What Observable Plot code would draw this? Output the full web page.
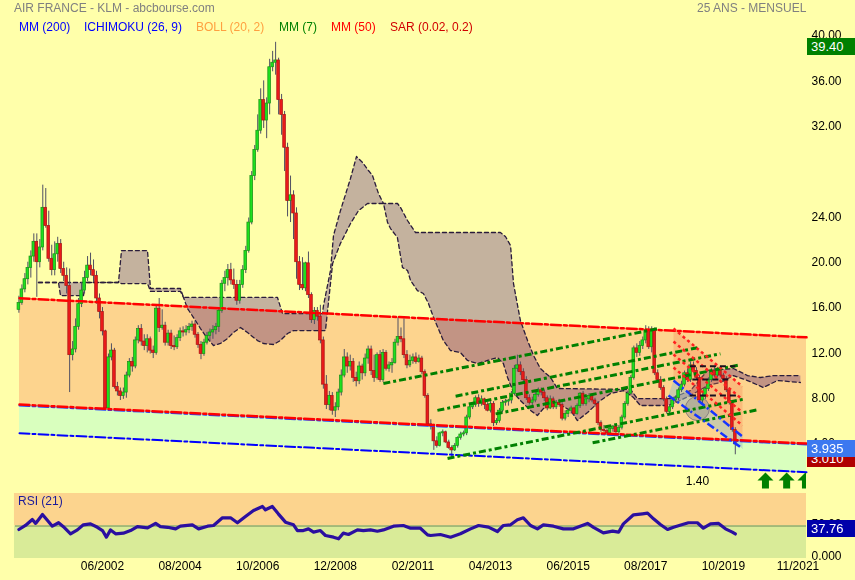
<!DOCTYPE html>
<html><head><meta charset="utf-8">
<script src="https://cdn.jsdelivr.net/npm/d3@7"></script>
<script src="https://cdn.jsdelivr.net/npm/@observablehq/plot@0.6"></script>
<style>
html,body{margin:0;padding:0;background:#FFFFAA;}
#wrap{position:relative;width:855px;height:580px;overflow:hidden;font-family:"Liberation Sans",Arial,sans-serif;}
#wrap svg{position:absolute;left:0;}
.t{position:absolute;font-size:12px;white-space:nowrap;line-height:14px;}
.box{position:absolute;left:807px;width:48px;height:17px;color:#fff;font-size:13px;line-height:17px;padding-left:4px;box-sizing:border-box;}
</style></head><body><div id="wrap"></div>
<script>
// ---------- DATA ----------
// month index: 0 = Jan 1999 ; first candle = Feb 2000
const firstMonth = 13;
const open = [
15.8,16.4,17.6,18.5,19.5,20.5,21.8,20.0,21.3,24.8,23.2,
20.3,19.3,20.7,21.6,19.4,18.8,17.9,11.8,12.3,14.3,16.3,17.5,
18.6,19.7,19.3,18.8,16.8,15.6,13.9,7.1,11.6,12.2,9.0,8.6,
8.2,8.5,10.0,11.2,10.8,13.1,14.1,13.0,12.6,13.2,12.2,12.0,
15.9,14.2,14.4,12.9,13.7,12.6,12.5,13.3,13.9,13.8,14.0,14.3,
14.5,13.6,12.7,11.9,12.9,13.5,13.8,14.0,14.3,15.7,18.1,18.6,
19.3,18.4,18.0,16.6,18.0,19.3,21.0,23.5,27.6,29.9,31.6,34.3,
32.5,34.0,37.2,37.6,37.8,34.3,33.0,30.1,25.4,25.9,24.3,20.0,
18.0,17.7,19.9,17.1,14.9,15.7,15.2,13.1,9.2,7.4,8.2,6.9,
7.2,8.5,10.0,11.6,10.8,11.2,9.8,9.5,10.8,10.2,11.5,12.3,
10.4,9.8,11.8,9.6,12.0,10.6,10.9,11.1,12.9,13.4,13.2,11.8,
10.9,11.3,11.6,11.2,11.5,10.3,8.2,5.7,5.5,4.2,3.8,4.9,
5.0,4.1,3.6,3.4,3.8,4.5,4.8,4.9,6.3,7.2,7.4,8.0,
7.5,7.9,7.4,6.9,7.5,5.8,6.0,6.9,7.6,7.7,7.8,8.4,
10.6,10.9,10.3,9.6,8.0,7.6,7.8,8.3,8.7,8.5,8.0,7.1,
7.9,7.2,7.6,7.4,6.2,6.6,6.9,7.1,6.6,7.3,8.4,7.5,
7.9,8.2,7.8,7.5,5.8,5.2,5.1,4.9,5.3,5.5,5.0,5.4,
6.3,7.5,8.4,9.8,12.4,12.0,12.6,13.1,14.0,12.5,14.0,10.2,
9.6,8.9,7.9,6.8,7.2,7.8,8.0,8.7,9.2,10.2,9.6,10.9,
10.4,9.8,7.8,8.1,8.8,9.6,10.4,10.0,10.5,10.0,9.7,8.7,
7.6,5.2];
const high = [
17.0,18.0,19.0,20.0,21.0,22.5,22.5,22.0,26.8,26.5,24.5,
21.5,21.8,22.2,22.0,20.0,19.5,19.4,13.0,15.0,16.8,18.2,19.2,
20.5,20.8,20.2,19.2,17.2,16.0,14.0,11.9,12.8,12.4,9.4,8.9,
8.9,10.3,11.5,11.6,13.4,14.4,14.5,13.6,13.6,13.4,12.6,16.2,
16.8,15.8,14.7,14.0,14.0,13.5,13.6,14.2,14.3,14.4,14.6,14.8,
14.8,13.8,13.0,13.2,13.8,14.1,14.4,14.6,16.0,18.4,19.2,19.8,
19.9,19.4,18.4,18.4,19.7,21.4,23.9,28.0,30.3,33.0,35.3,36.0,
34.5,37.9,38.6,39.4,38.0,34.8,33.3,30.5,27.6,26.3,24.8,20.5,
20.4,20.0,20.9,17.3,16.0,16.0,16.2,13.4,10.0,8.6,8.5,7.6,
8.8,10.5,12.3,12.0,11.8,11.5,10.3,11.2,11.0,11.9,12.6,12.6,
11.8,12.0,12.2,12.3,12.2,11.2,11.5,13.2,15.1,14.2,15.0,12.2,
11.8,11.9,12.0,11.8,11.7,10.5,8.4,6.1,5.7,4.6,5.0,5.2,
5.1,4.3,3.8,4.0,4.6,5.0,5.1,6.5,7.4,7.6,8.2,8.3,
8.2,8.0,7.6,7.7,7.7,6.2,7.1,7.8,7.9,7.9,8.6,10.9,
11.8,11.2,10.6,9.9,8.3,8.1,8.6,8.9,8.9,8.7,8.2,8.2,
8.1,7.8,7.9,7.6,6.9,7.0,7.3,7.2,7.5,8.5,8.6,8.2,
8.4,8.3,8.0,7.7,6.0,5.6,5.3,5.4,5.6,5.6,5.6,6.5,
7.7,8.6,10.0,12.6,12.8,13.0,13.4,14.4,14.3,14.3,14.2,10.5,
9.9,9.1,8.1,7.4,8.0,8.2,8.9,9.5,10.4,10.6,11.2,11.2,
10.7,10.0,8.4,9.0,9.8,10.6,10.8,10.7,10.8,10.2,9.9,8.9,
7.8,5.4];
const low = [
15.5,16.2,17.3,18.0,18.6,20.0,16.9,19.5,21.0,23.0,20.0,
18.8,18.8,20.0,19.0,18.3,17.2,8.5,11.3,12.0,14.0,16.0,17.2,
18.3,18.8,18.2,16.3,15.0,13.5,6.9,7.0,11.3,8.8,8.2,7.8,
7.9,8.0,9.8,10.3,10.6,12.8,12.6,12.2,12.0,11.9,11.5,11.8,
13.8,14.0,12.6,12.6,12.3,12.2,12.3,13.0,13.4,13.5,13.7,13.9,
13.3,12.4,11.4,11.7,12.7,13.0,13.2,13.6,13.8,15.5,17.4,17.9,
18.0,17.6,16.2,16.3,17.7,19.0,20.8,23.3,27.2,29.7,31.3,31.8,
30.9,33.0,36.8,36.5,33.0,31.2,28.0,24.0,23.5,22.0,18.5,17.5,
17.5,17.4,16.8,14.6,14.5,14.8,12.8,8.8,7.0,6.9,6.5,6.3,
6.9,8.2,9.8,10.2,10.4,9.4,9.0,9.2,9.6,9.9,11.0,10.0,
9.4,9.6,9.4,9.4,10.4,10.3,10.2,11.0,12.6,12.9,11.5,10.6,
10.7,11.0,11.0,11.1,10.1,8.0,5.5,5.2,3.4,3.6,3.7,4.6,
4.0,3.5,2.8,3.3,3.6,4.3,4.6,4.7,6.1,7.0,7.2,7.2,
7.3,7.0,6.8,6.7,5.5,5.6,5.8,6.7,7.3,7.3,7.5,8.2,
10.3,10.0,9.4,7.8,7.4,7.3,7.6,8.1,8.2,7.7,6.9,7.0,
7.0,7.0,7.2,6.0,6.0,6.3,6.6,6.4,6.5,7.1,7.3,7.3,
7.6,7.6,7.2,5.6,5.0,5.0,4.7,4.8,5.0,4.9,4.7,5.2,
6.1,7.3,8.2,9.6,11.6,11.7,12.3,12.8,12.3,12.0,10.0,9.4,
8.7,7.7,6.6,6.6,7.0,7.6,7.8,8.5,9.0,9.4,9.4,10.2,
9.6,7.6,7.5,7.9,8.6,9.4,9.8,9.8,9.8,9.4,8.5,7.4,
5.0,3.01];
const close = [
16.4,17.6,18.5,19.5,20.5,21.8,20.0,21.3,24.8,23.2,20.3,
19.3,20.7,21.6,19.4,18.8,17.9,11.8,12.3,14.3,16.3,17.5,18.6,
19.7,19.3,18.8,16.8,15.6,13.9,7.1,11.6,12.2,9.0,8.6,8.2,
8.5,10.0,11.2,10.8,13.1,14.1,13.0,12.6,13.2,12.2,12.0,15.9,
14.2,14.4,12.9,13.7,12.6,12.5,13.3,13.9,13.8,14.0,14.3,14.5,
13.6,12.7,11.9,12.9,13.5,13.8,14.0,14.3,15.7,18.1,18.6,19.3,
18.4,18.0,16.6,18.0,19.3,21.0,23.5,27.6,29.9,31.6,34.3,32.5,
34.0,37.2,37.6,37.8,34.3,33.0,30.1,25.4,25.9,24.3,20.0,18.0,
17.7,19.9,17.1,14.9,15.7,15.2,13.1,9.2,7.4,8.2,6.9,7.2,
8.5,10.0,11.6,10.8,11.2,9.8,9.5,10.8,10.2,11.5,12.3,10.4,
9.8,11.8,9.6,12.0,10.6,10.9,11.1,12.9,13.4,13.2,11.8,10.9,
11.3,11.6,11.2,11.5,10.3,8.2,5.7,5.5,4.2,3.8,4.9,5.0,
4.1,3.6,3.4,3.8,4.5,4.8,4.9,6.3,7.2,7.4,8.0,7.5,
7.9,7.4,6.9,7.5,5.8,6.0,6.9,7.6,7.7,7.8,8.4,10.6,
10.9,10.3,9.6,8.0,7.6,7.8,8.3,8.7,8.5,8.0,7.1,7.9,
7.2,7.6,7.4,6.2,6.6,6.9,7.1,6.6,7.3,8.4,7.5,7.9,
8.2,7.8,7.5,5.8,5.2,5.1,4.9,5.3,5.5,5.0,5.4,6.3,
7.5,8.4,9.8,12.4,12.0,12.6,13.1,14.0,12.5,14.0,10.2,9.6,
8.9,7.9,6.8,7.2,7.8,8.0,8.7,9.2,10.2,9.6,10.9,10.4,
9.8,7.8,8.1,8.8,9.6,10.4,10.0,10.5,10.0,9.7,8.7,7.6,
5.2,3.935];

// Ichimoku cloud envelopes [monthIndex, price]
const cloudUpper = [[19.56,18.21],[46.36,18.21],[47.37,21.03],[56.08,21.03],[57.08,17.68],[67.13,17.68],[68.14,16.89],[99.63,16.89],[101.3,15.47],[114.7,15.47],[115.04,16.18],[117.38,19.27],[118.39,22.36],[120.73,24.56],[124.08,27.39],[126.1,29.33],[128.1,28.8],[130.1,28.09],[131.45,27.65],[133.46,26.06],[135.14,25.18],[139.83,25.18],[140.84,24.83],[143.18,23.68],[145.86,22.62],[174.3,22.62],[176.0,22.27],[177.7,21.47],[178.7,18.12],[181.0,14.86],[183.4,13.09],[185.4,11.77],[187.7,10.62],[191.1,9.83],[193.4,8.86],[217.9,8.77],[220.2,7.97],[231.3,7.97],[238.0,8.68],[243.7,10.45],[252.4,10.62],[257.1,10.0],[261.4,9.83],[265.8,10.0],[274.8,10.0]];
const cloudLower = [[19.56,18.21],[26.26,18.21],[26.93,17.06],[34.64,17.06],[35.3,18.21],[46.36,18.21],[47.37,18.12],[56.08,18.12],[57.08,17.42],[67.13,17.42],[68.14,16.89],[69.48,15.91],[71.49,15.12],[73.83,14.15],[76.18,13.27],[78.19,12.65],[80.53,12.83],[82.88,13.27],[84.89,13.8],[87.23,14.24],[89.58,13.8],[92.93,13.09],[94.94,12.83],[98.29,12.74],[100.6,13.09],[103.0,13.71],[105.0,13.97],[114.7,13.97],[115.7,13.97],[118.1,19.89],[120.7,21.65],[124.1,23.42],[126.8,24.56],[129.8,25.18],[135.14,25.18],[136.5,23.5],[137.5,22.97],[139.8,22.18],[141.5,19.53],[143.2,19.27],[144.2,18.39],[146.5,17.5],[148.5,17.24],[150.2,16.36],[151.9,15.12],[155.2,13.09],[157.6,12.21],[160.9,12.03],[163.3,11.33],[166.6,11.06],[170.0,11.33],[173.3,11.59],[175.3,11.06],[176.7,9.83],[178.7,8.5],[181.0,7.8],[184.4,6.92],[186.7,6.48],[188.7,7.09],[193.4,7.53],[197.8,6.92],[200.1,6.03],[203.5,6.74],[207.8,7.8],[211.2,8.41],[215.5,8.68],[218.9,8.06],[221.2,7.36],[230.3,7.36],[232.3,7.53],[238.0,8.24],[243.7,9.12],[248.0,9.39],[252.4,10.0],[257.1,9.56],[262.4,8.95],[267.1,9.56],[274.8,9.39]];

// long-term channel [monthIndex, price]
const channelTop = [[13.2,16.82],[276.85,13.37]];
const channelMid = [[13.2,7.44],[276.85,4.0]];
const channelBottom = [[13.2,4.91],[276.85,1.47]];

// green trend lines
const greenLines = [
  {m1:135.1,v1:9.30,m2:226.9,v2:14.13},
  {m1:159.3,v1:8.18,m2:240.3,v2:12.45},
  {m1:153.2,v1:6.93,m2:248.0,v2:11.92},
  {m1:172.7,v1:6.62,m2:254.7,v2:10.95},
  {m1:156.6,v1:2.69,m2:255.7,v2:7.91},
  {m1:205.2,v1:4.07,m2:260.1,v2:6.96}
];
// short-term descending channel (2018-2020)
const redChannel = [
  {m1:232.3,v1:14.15,m2:255.4,v2:9.03},
  {m1:232.3,v1:13.00,m2:255.4,v2:7.89},
  {m1:232.3,v1:11.86,m2:255.4,v2:6.74},
  {m1:232.3,v1:10.71,m2:255.4,v2:5.59}
];
const redZone = [[232.3,14.15],[255.4,9.03],[255.4,4.44],[232.3,9.56]];
const blueChannel = [
  {m1:232.3,v1:9.56,m2:255.4,v2:4.62},
  {m1:230.6,v1:8.24,m2:255.4,v2:3.56}
];
const blueZone = [[232.3,9.56],[255.4,4.62],[255.4,3.56],[230.6,8.24]];
const circleMark = [{m:240.3,v:7.09}];
const blackDashes = [
  {m1:237.8,v1:10.82,m2:253.0,v2:10.82},
  {m1:238.6,v1:9.65,m2:251.4,v2:9.65},
  {m1:237.8,v1:8.24,m2:253.7,v2:8.24}
];
const buySignals = [263.1,270.2,276.5];
const notes = [{m:240.3,v:0.65,label:"1.40"}];

const priceTicks = [4,8,12,16,20,24,32,36,40];
const xTickLabels = ["06/2002","08/2004","10/2006","12/2008","02/2011","04/2013","06/2015","08/2017","10/2019","11/2021"];

const rsi = [[13,44.6],[15.2,50.8],[17.5,60],[18.6,54],[20.9,67.7],[22.6,58.5],[24.2,49.7],[26.3,55],[27.9,49],[30.3,38],[32.6,44],[34.6,51.8],[37,53.3],[39.3,48],[41,43],[42.3,32.8],[43.7,44],[45.4,38],[48,39],[50.4,43],[52.7,49],[56.1,47],[58.8,54],[60.4,49],[62.8,48],[65.5,45.6],[67.1,49.7],[71.1,51.8],[73.2,45.6],[76.2,49.7],[78.2,50.8],[81.2,62.6],[83.9,62.6],[86.2,55],[88.9,64.6],[91.6,73.8],[94.6,80],[95.6,74.9],[97.9,80],[99.9,68.7],[102.3,55.9],[105,51.8],[106.3,43],[108.3,43],[110,45.6],[111.7,40.5],[114,43],[115.7,35.4],[118.4,32.8],[120.1,30.3],[121.7,39],[123.4,36.9],[126.4,44],[128.4,43],[130.8,44],[133.1,42],[135.1,44],[138.5,49.7],[141.8,50.8],[144.2,46.6],[147.5,46.6],[149.9,36.4],[150.9,35.4],[154.2,36.9],[157.6,32.8],[160.9,38],[164.3,45.6],[167,50.8],[170.3,48.2],[173.3,41.5],[175.3,50.8],[177.7,51.8],[180,59.5],[182,62.6],[184.4,50.8],[186.7,45.6],[188.7,51.8],[192.1,49.7],[195.4,45.6],[198.8,45.6],[203.5,54],[205.5,48],[208.8,39.5],[211.9,42],[213.9,40.5],[215.5,53.3],[218.9,67.2],[221.9,68.7],[223.6,69.7],[225.6,61],[227.9,52.3],[230.3,44.6],[232.3,48.2],[235.3,52.3],[237.3,55],[240.3,55],[242.3,46.6],[244.7,53.3],[247.4,54],[249.7,45.6],[252,40.5],[253,37.76]];
const rsiLevels = [0,50];

const priceMarkers = [{v:39.40,color:"#008000"},{v:3.010,color:"#B00000"},{v:3.935,color:"#3C78F0"}];

// ---------- BUILD ----------
const n = close.length;
if (open.length!==n||high.length!==n||low.length!==n) throw new Error("length mismatch "+[open.length,high.length,low.length,n]);
const candles = close.map((c,i)=>({m:firstMonth+i,o:open[i],h:high[i],l:low[i],c}));
const ups = candles.filter(d=>d.c>=d.o), downs = candles.filter(d=>d.c<d.o);
const band = channelTop.map((p,i)=>({m:p[0],top:p[1],mid:channelMid[i][1],bot:channelBottom[i][1]}));
const cloudPoly = cloudUpper.concat(cloudLower.slice().reverse());
const arrowPolys = buySignals.flatMap((m,k)=>[[m-1.17,0.03],[m-1.17,0.74],[m-2.68,0.74],[m,1.45],[m+2.68,0.74],[m+1.17,0.74],[m+1.17,0.03]].map(p=>({id:k,m:p[0],v:p[1]})));
const monthIndex = s => (+s.slice(3)-1999)*12 + (+s.slice(0,2)) - 1;

const X_DOMAIN=[11.86,276.85], Y_DOMAIN=[-0.14,43.09];
const FONT='"Liberation Sans", Arial, sans-serif';
const BG="#FFFFAA", ORANGE="#FDD48E", GREENBAND="#D9FFBE";
const px = d=>d[0], py = d=>d[1];

const main = Plot.plot({
  width:855, height:490, marginLeft:15, marginRight:49, marginTop:0, marginBottom:0,
  style:{background:"transparent", fontFamily:FONT, fontSize:"12px", overflow:"visible"},
  x:{domain:X_DOMAIN, axis:null}, y:{domain:Y_DOMAIN, axis:null},
  marks:[
    Plot.frame({fill:BG, stroke:"none"}),
    Plot.areaY(band,{x:"m", y1:"mid", y2:"top", fill:ORANGE}),
    Plot.areaY(band,{x:"m", y1:"bot", y2:"mid", fill:GREENBAND}),
    Plot.line(cloudPoly,{x:px, y:py, fill:"#C4B2ED", stroke:"none", mixBlendMode:"multiply"}),
    Plot.line(cloudUpper,{x:px, y:py, stroke:"#2a1c3c", strokeWidth:1.3, strokeDasharray:"4,3"}),
    Plot.line(cloudLower,{x:px, y:py, stroke:"#2a1c3c", strokeWidth:1.3, strokeDasharray:"4,3"}),
    Plot.line(redZone,{x:px, y:py, fill:"#F5804F", fillOpacity:0.3, stroke:"none"}),
    Plot.line(blueZone,{x:px, y:py, fill:"#9DBFC4", fillOpacity:0.5, stroke:"none"}),
    Plot.dot(circleMark,{x:"m", y:"v", r:12, fill:"#9a9088", fillOpacity:0.45, stroke:"#8a8080", strokeWidth:1}),
    Plot.ruleX(candles,{x:"m", y1:"l", y2:"h", stroke:"#505063", strokeWidth:1}),
    Plot.rect(ups,{x1:d=>d.m-0.45, x2:d=>d.m+0.45, y1:"o", y2:"c", fill:"#1EE01E", stroke:"#178F17", strokeWidth:0.7}),
    Plot.rect(downs,{x1:d=>d.m-0.45, x2:d=>d.m+0.45, y1:"o", y2:"c", fill:"#EA1A1A", stroke:"#A81414", strokeWidth:0.7}),
    Plot.line(channelTop,{x:px, y:py, stroke:"#FF0000", strokeWidth:2.5, strokeDasharray:"10,3,3,3"}),
    Plot.line(channelMid,{x:px, y:d=>d[1]-0.08, stroke:"#2040FF", strokeWidth:2, strokeDasharray:"10,3,3,3"}),
    Plot.line(channelMid,{x:px, y:py, stroke:"#FF0000", strokeWidth:2.5, strokeDasharray:"10,3,3,3"}),
    Plot.line(channelBottom,{x:px, y:py, stroke:"#0000FF", strokeWidth:2, strokeDasharray:"10,3,3,3"}),
    Plot.link(greenLines,{x1:"m1", y1:"v1", x2:"m2", y2:"v2", stroke:"#008000", strokeWidth:3, strokeDasharray:"7,3,3,3"}),
    Plot.link(redChannel,{x1:"m1", y1:"v1", x2:"m2", y2:"v2", stroke:"#FF2020", strokeWidth:2.5, strokeDasharray:"3,3"}),
    Plot.link(blueChannel,{x1:"m1", y1:"v1", x2:"m2", y2:"v2", stroke:"#1535FF", strokeWidth:2.5, strokeDasharray:"8,3,2,3"}),
    Plot.link(blackDashes,{x1:"m1", y1:"v1", x2:"m2", y2:"v2", stroke:"#1a1020", strokeWidth:2, strokeDasharray:"6,4"}),
    Plot.line(arrowPolys,{x:"m", y:"v", z:"id", fill:"#008000", stroke:"none", clip:true}),
    Plot.text(notes,{x:"m", y:"v", text:"label", fontSize:12, fill:"#000"}),
    Plot.text(priceTicks,{y:d=>d, frameAnchor:"right", dx:5, textAnchor:"start", text:d=>d.toFixed(2), fontSize:12, fill:"#000"})
  ]
});
main.style.top="0px";

const rsiPlot = Plot.plot({
  width:855, height:87, marginLeft:15, marginRight:49, marginTop:0, marginBottom:22,
  style:{background:"transparent", fontFamily:FONT, fontSize:"12px", overflow:"visible"},
  x:{domain:X_DOMAIN, axis:null}, y:{domain:[0,100], axis:null},
  marks:[
    Plot.rect([0],{x1:()=>X_DOMAIN[0]-0.35, x2:()=>X_DOMAIN[1], y1:()=>50, y2:()=>100, fill:"#FCD48E"}),
    Plot.rect([0],{x1:()=>X_DOMAIN[0]-0.35, x2:()=>X_DOMAIN[1], y1:()=>0, y2:()=>50, fill:"#D9EB98"}),
    Plot.ruleY([50],{stroke:"#6B8A5A", strokeWidth:1}),
    Plot.line(rsi,{x:px, y:py, stroke:"#2B0FA0", strokeWidth:3.2, strokeLinejoin:"round"}),
    Plot.text(xTickLabels,{x:d=>monthIndex(d), frameAnchor:"bottom", dy:11, text:d=>d, fontSize:12, fill:"#000"}),
    Plot.text(rsiLevels,{y:d=>d, frameAnchor:"right", dx:5, dy:-2, textAnchor:"start", text:d=>d===0?"0.000":d.toFixed(2), fontSize:12, fill:"#000"})
  ]
});
rsiPlot.style.top="493px";

const wrap=document.getElementById("wrap");
wrap.appendChild(main);
wrap.appendChild(rsiPlot);

function addText(txt,left,top,color,extra){const d=document.createElement("div");d.className="t";d.textContent=txt;d.style.left=left+"px";d.style.top=top+"px";d.style.color=color;if(extra)Object.assign(d.style,extra);wrap.appendChild(d);return d;}
addText("AIR FRANCE - KLM - abcbourse.com",14,1,"#808080");
addText("25 ANS - MENSUEL",697,1,"#808080");
const legend=[["MM (200)",19,"#0000FF"],["ICHIMOKU (26, 9)",84,"#0000FF"],["BOLL (20, 2)",196,"#FFA040"],["MM (7)",279,"#008000"],["MM (50)",331,"#FF0000"],["SAR (0.02, 0.2)",390,"#D00000"]];
legend.forEach(([t,x,c])=>addText(t,x,20,c));
addText("RSI (21)",18,494,"#1a1a9a");

const yMain=d3.scaleLinear(Y_DOMAIN,[490,0]);
priceMarkers.forEach(p=>{const b=document.createElement("div");b.className="box";b.style.background=p.color;b.style.top=(yMain(p.v)-4)+"px";b.textContent=p.v.toFixed(p.v<10?3:2);wrap.appendChild(b);});
const yR=d3.scaleLinear([0,100],[558,493]);
const lastRsi=rsi[rsi.length-1][1];
const rb=document.createElement("div");rb.className="box";rb.style.background="#0000AA";rb.style.top=(yR(lastRsi)-13)+"px";rb.textContent=lastRsi.toFixed(2);wrap.appendChild(rb);
</script></body></html>
